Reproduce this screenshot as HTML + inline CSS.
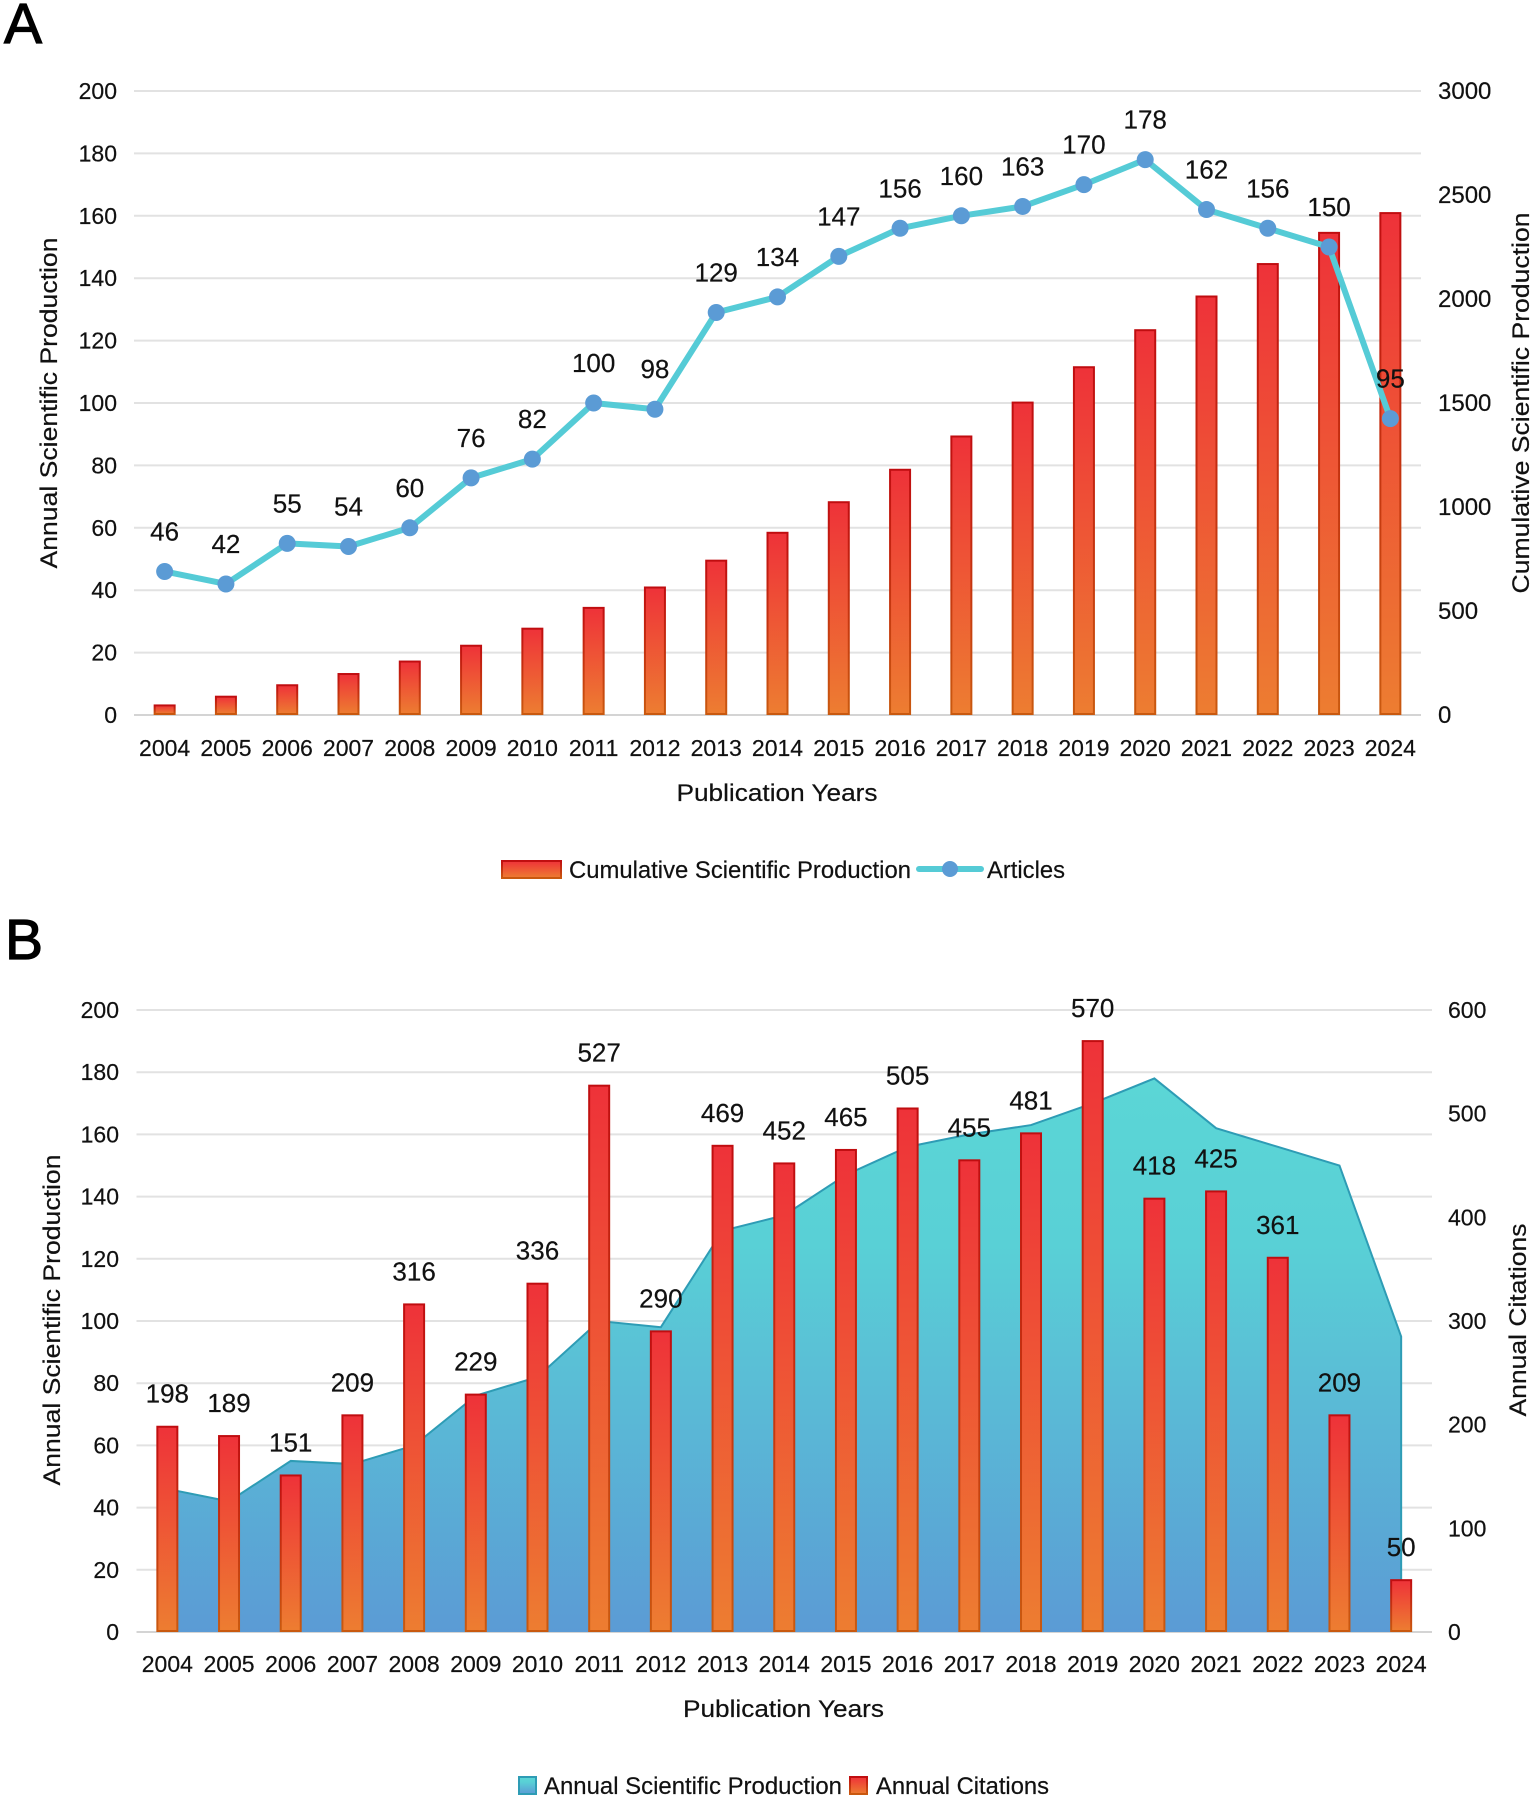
<!DOCTYPE html>
<html lang="en">
<head>
<meta charset="utf-8">
<title>Annual Scientific Production and Citations</title>
<style>
html,body{margin:0;padding:0;background:#fff;width:1535px;height:1800px;overflow:hidden}
svg{display:block}
text{font-family:"Liberation Sans",sans-serif;fill:#111;stroke:#111;stroke-width:.2px}
.t{font-size:23px}
.r{font-size:24px}
.v{font-size:26px}
</style>
</head>
<body>
<svg id="figure" xmlns="http://www.w3.org/2000/svg" width="1535" height="1800" viewBox="0 0 1535 1800">
  <defs>
    <linearGradient id="barFill" x1="0" y1="0" x2="0" y2="1"><stop offset="0" stop-color="#ee3239"/><stop offset="1" stop-color="#ed7d31"/></linearGradient>
    <linearGradient id="barStroke" x1="0" y1="0" x2="0" y2="1"><stop offset="0" stop-color="#c00d10"/><stop offset="1" stop-color="#c9590f"/></linearGradient>
    <linearGradient id="areaFill" x1="0" y1="0" x2="0" y2="1"><stop offset="0" stop-color="#5bd6d6"/><stop offset="0.3" stop-color="#59d0d6"/><stop offset="1" stop-color="#5b9bd5"/></linearGradient>
  </defs>

  <text x="4" y="43" font-size="57" style="fill:#000;stroke:#000;stroke-width:1.2px">A</text>
  <text x="5" y="959" font-size="57" style="fill:#000;stroke:#000;stroke-width:1.2px">B</text>

  <g id="chartA"></g>
  <g id="chartB"></g>

  <text x="777" y="801" font-size="24" text-anchor="middle" textLength="201" lengthAdjust="spacingAndGlyphs">Publication Years</text>
  <text transform="translate(57,403) rotate(-90)" font-size="24" text-anchor="middle" textLength="331" lengthAdjust="spacingAndGlyphs">Annual Scientific Production</text>
  <text transform="translate(1529,403) rotate(-90)" font-size="24" text-anchor="middle" textLength="381" lengthAdjust="spacingAndGlyphs">Cumulative Scientific Production</text>

  <g>
    <rect x="502" y="861" width="59" height="17" fill="url(#barFill)" stroke="url(#barStroke)" stroke-width="2"/>
    <text x="569" y="878" font-size="24" textLength="342" lengthAdjust="spacingAndGlyphs">Cumulative Scientific Production</text>
    <line x1="919" y1="869" x2="981" y2="869" stroke="#55cbd6" stroke-width="6" stroke-linecap="round"/>
    <circle cx="950" cy="869" r="8" fill="#5b9bd5"/>
    <text x="987" y="878" font-size="24" textLength="78" lengthAdjust="spacingAndGlyphs">Articles</text>
  </g>

  <text x="783.5" y="1717" font-size="24" text-anchor="middle" textLength="201" lengthAdjust="spacingAndGlyphs">Publication Years</text>
  <text transform="translate(60,1320) rotate(-90)" font-size="24" text-anchor="middle" textLength="331" lengthAdjust="spacingAndGlyphs">Annual Scientific Production</text>
  <text transform="translate(1526,1320) rotate(-90)" font-size="24" text-anchor="middle" textLength="193" lengthAdjust="spacingAndGlyphs">Annual Citations</text>

  <g>
    <rect x="519" y="1777" width="17" height="17" fill="url(#areaFill)" stroke="#2e9cb5" stroke-width="2"/>
    <text x="544" y="1794" font-size="24" textLength="298" lengthAdjust="spacingAndGlyphs">Annual Scientific Production</text>
    <rect x="850" y="1777" width="17" height="17" fill="url(#barFill)" stroke="url(#barStroke)" stroke-width="2"/>
    <text x="876" y="1794" font-size="24" textLength="173" lengthAdjust="spacingAndGlyphs">Annual Citations</text>
  </g>
</svg>
<script>
const years = ['2004','2005','2006','2007','2008','2009','2010','2011','2012','2013','2014','2015','2016','2017','2018','2019','2020','2021','2022','2023','2024'];
const articles = [46,42,55,54,60,76,82,100,98,129,134,147,156,160,163,170,178,162,156,150,95];
const cumulative = [46,88,143,197,257,333,415,515,613,742,876,1023,1179,1339,1502,1672,1850,2012,2168,2318,2413];
const citations = [198,189,151,209,316,229,336,527,290,469,452,465,505,455,481,570,418,425,361,209,50];
const leftTicks = [0,20,40,60,80,100,120,140,160,180,200];
const rightTicksA = [0,500,1000,1500,2000,2500,3000];
const rightTicksB = [0,100,200,300,400,500,600];

const NS = 'http://www.w3.org/2000/svg';
function make(parent, tag, attrs, content) {
  const el = document.createElementNS(NS, tag);
  for (const k in attrs) el.setAttribute(k, attrs[k]);
  if (content !== undefined) el.textContent = content;
  parent.appendChild(el);
  return el;
}

/* ---------- Chart A ---------- */
const gA = document.getElementById('chartA');
const aLeft = 134, aRight = 1421, aBase = 715, aTop = 91;
const axA = i => aLeft + (aRight - aLeft) / years.length * (i + 0.5);
const ayL = v => aBase - (aBase - aTop) * v / 200;
const ayR = v => aBase - (aBase - aTop) * v / 3000;

leftTicks.forEach(t => {
  const grid = make(gA, 'line', {x1: aLeft, x2: aRight, y1: ayL(t), y2: ayL(t), stroke: t === 0 ? '#d4d4d4' : '#e2e2e2', 'stroke-width': 2});
  
  
  const lab = make(gA, 'text', {x: 117, y: ayL(t) + 8, 'text-anchor': 'end', class: 't'}, String(t));
  
  
});
rightTicksA.forEach(t => {
  const lab = make(gA, 'text', {x: 1438, y: ayR(t) + 8, class: 'r'}, String(t));
  
  
});
years.forEach((y, i) => {
  const lab = make(gA, 'text', {x: axA(i), y: 756, 'text-anchor': 'middle', class: 't'}, y);
  
  
});
cumulative.forEach((v, i) => {
  const bar = make(gA, 'rect', {x: axA(i) - 10, y: ayR(v), width: 20, height: aBase - ayR(v) - 1, fill: 'url(#barFill)', stroke: 'url(#barStroke)', 'stroke-width': 2});
  
  
});
const linePts = articles.map((v, i) => axA(i) + ',' + ayL(v)).join(' ');
const artLine = make(gA, 'polyline', {points: linePts, fill: 'none', stroke: '#55cbd6', 'stroke-width': 6, 'stroke-linejoin': 'round'});


articles.forEach((v, i) => {
  const dot = make(gA, 'circle', {cx: axA(i), cy: ayL(v), r: 8.5, fill: '#5b9bd5'});
  
  
});
articles.forEach((v, i) => {
  const lab = make(gA, 'text', {x: axA(i), y: ayL(v) - 31, 'text-anchor': 'middle', class: 'v'}, String(v));
  
  
});

/* ---------- Chart B ---------- */
const gB = document.getElementById('chartB');
const bLeft = 136.5, bRight = 1432, bBase = 1632, bTop = 1010;
const bxB = i => bLeft + (bRight - bLeft) / years.length * (i + 0.5);
const byL = v => bBase - (bBase - bTop) * v / 200;
const byR = v => bBase - (bBase - bTop) * v / 600;

leftTicks.forEach(t => {
  const grid = make(gB, 'line', {x1: bLeft, x2: bRight, y1: byL(t), y2: byL(t), stroke: t === 0 ? '#d4d4d4' : '#e2e2e2', 'stroke-width': 2});
  
  
  const lab = make(gB, 'text', {x: 119, y: byL(t) + 8, 'text-anchor': 'end', class: 't'}, String(t));
  
  
});
rightTicksB.forEach(t => {
  const lab = make(gB, 'text', {x: 1448, y: byR(t) + 8, class: 't'}, String(t));
  
  
});
years.forEach((y, i) => {
  const lab = make(gB, 'text', {x: bxB(i), y: 1672, 'text-anchor': 'middle', class: 't'}, y);
  
  
});
const topPts = articles.map((v, i) => bxB(i) + ',' + byL(v));
const first = bxB(0), last = bxB(years.length - 1);
const area = make(gB, 'polygon', {points: first + ',' + bBase + ' ' + topPts.join(' ') + ' ' + last + ',' + bBase, fill: 'url(#areaFill)'});


const outline = make(gB, 'polyline', {points: topPts.join(' ') + ' ' + last + ',' + bBase, fill: 'none', stroke: '#2e9cb5', 'stroke-width': 2});


citations.forEach((v, i) => {
  const bar = make(gB, 'rect', {x: bxB(i) - 10, y: byR(v), width: 20, height: bBase - byR(v) - 1, fill: 'url(#barFill)', stroke: 'url(#barStroke)', 'stroke-width': 2});
  
  
});
citations.forEach((v, i) => {
  const lab = make(gB, 'text', {x: bxB(i), y: byR(v) - 24, 'text-anchor': 'middle', class: 'v'}, String(v));
  
  
});
</script>
</body>
</html>
